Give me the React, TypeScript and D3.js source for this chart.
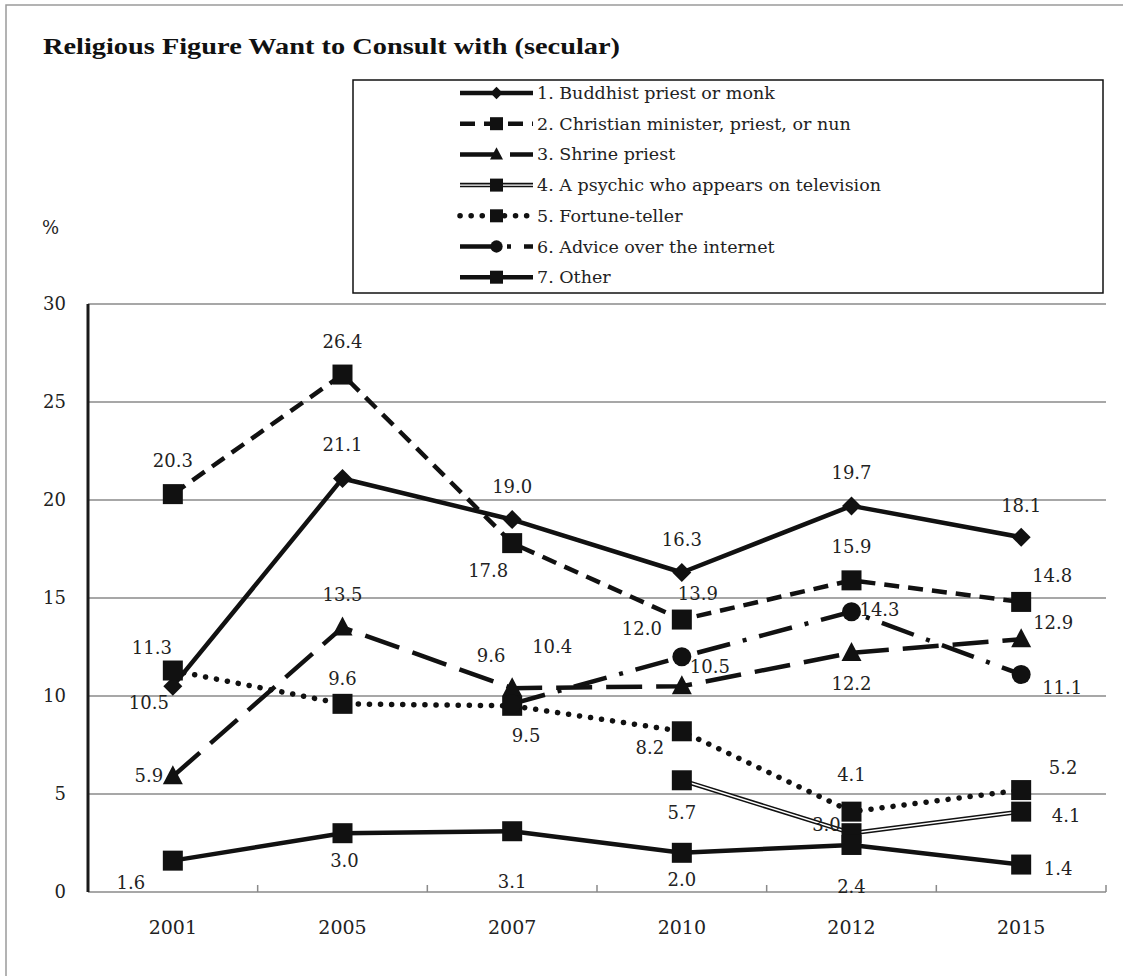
import * as d3 from "d3";

const years = ["2001", "2005", "2007", "2010", "2012", "2015"];
const seriesNames = [
  "1. Buddhist priest or monk",
  "2. Christian minister, priest, or nun",
  "3. Shrine priest",
  "4. A psychic who appears on television",
  "5. Fortune-teller",
  "6. Advice over the internet",
  "7. Other",
];
const buddhist = [10.5, 21.1, 19.0, 16.3, 19.7, 18.1];
const christian = [20.3, 26.4, 17.8, 13.9, 15.9, 14.8];
const shrine = [5.9, 13.5, 10.4, 10.5, 12.2, 12.9];
const psychic = [null, null, null, 5.7, 3.0, 4.1];
const fortune = [11.3, 9.6, 9.5, 8.2, 4.1, 5.2];
const internet = [null, null, 9.6, 12.0, 14.3, 11.1];
const other = [1.6, 3.0, 3.1, 2.0, 2.4, 1.4];
const yTicks = [0, 5, 10, 15, 20, 25, 30];

const allSeries: (number | null)[][] = [buddhist, christian, shrine, psychic, fortune, internet, other];

type Marker = "diamond" | "square" | "triangle" | "circle";
const styles: { marker: Marker; dash?: string; cap?: string; width: number; double?: boolean }[] = [
  { marker: "diamond", width: 4.5 },
  { marker: "square", dash: "15 9", width: 4.5 },
  { marker: "triangle", dash: "36 14", width: 4.5 },
  { marker: "square", width: 4.5, double: true },
  { marker: "square", dash: "0.1 11", cap: "round", width: 5.5 },
  { marker: "circle", dash: "34 13 4 13", width: 4.5 },
  { marker: "square", width: 4.5 },
];

// label offsets from the point (dx, baseline dy)
const labelOffsets: ([number, number] | null)[][] = [
  [[-24, 23], [0, -27], [0, -27], [0, -27], [0, -27], [0, -25]],
  [[0, -27], [0, -27], [-24, 34], [16, -20], [0, -27], [31, -20]],
  [[-24, 6], [0, -26], [40, -35], [28, -13], [0, 37], [32, -10]],
  [null, null, null, [0, 39], [-25, -2], [45, 10]],
  [[-21, -17], [0, -19], [14, 36], [-32, 23], [0, -31], [42, -16]],
  [null, null, [-21, -42], [-40, -22], [28, 4], [41, 20]],
  [[-42, 28], [2, 34], [0, 57], [0, 33], [0, 48], [37, 10]],
];

const FONT = "'DejaVu Serif', serif";

function MarkerShape({ type, cx, cy, s = 1 }: { type: Marker; cx: number; cy: number; s?: number }) {
  if (type === "square") {
    const h = 10 * s;
    return <rect x={cx - h} y={cy - h} width={2 * h} height={2 * h} fill="#111" />;
  }
  if (type === "diamond") {
    const h = 9.5 * s;
    return <path d={`M${cx},${cy - h}L${cx + h},${cy}L${cx},${cy + h}L${cx - h},${cy}Z`} fill="#111" />;
  }
  if (type === "triangle") {
    const w = 10 * s;
    return <path d={`M${cx},${cy - 11 * s}L${cx + w},${cy + 8 * s}L${cx - w},${cy + 8 * s}Z`} fill="#111" />;
  }
  return <circle cx={cx} cy={cy} r={9.5 * s} fill="#111" />;
}

export default function App() {
  const width = 1123;
  const height = 976;
  const plot = { left: 88, right: 1106, top: 304, bottom: 892 };

  const x = d3.scaleBand<string>().domain(years).range([plot.left, plot.right]);
  const cx = (yr: string) => (x(yr) ?? 0) + x.bandwidth() / 2;
  const y = d3.scaleLinear().domain([0, 30]).range([plot.bottom, plot.top]);
  const fmt = d3.format(".1f");

  const line = d3
    .line<number | null>()
    .defined((d) => d != null)
    .x((_, i) => cx(years[i]))
    .y((d) => y(d as number));

  const legend = { x: 353, y: 80, w: 750, h: 213, rowY: 93, rowGap: 30.7, lineX0: 460, lineX1: 533 };

  return (
    <svg
      width={width}
      height={height}
      style={{ position: "absolute", left: 0, top: 0, background: "#fff" }}
      fontFamily={FONT}
    >
      <rect x={0} y={0} width={width} height={height} fill="#fff" />
      <rect x={6} y={5} width={width + 20} height={height + 20} fill="none" stroke="#9a9a9a" strokeWidth={1.5} />

      <text
        x={43}
        y={54}
        fontFamily="'Liberation Serif', serif"
        fontWeight="bold"
        fontSize={23}
        textLength={577}
        lengthAdjust="spacingAndGlyphs"
        fill="#111"
      >
        Religious Figure Want to Consult with (secular)
      </text>

      {/* grid */}
      {yTicks.map((t) => (
        <g key={t}>
          {t > 0 && (
            <line x1={plot.left} x2={plot.right} y1={y(t)} y2={y(t)} stroke="#8a8a8a" strokeWidth={1.5} />
          )}
          <text x={66} y={y(t) + 6} textAnchor="end" fontSize={18} fill="#222">
            {t}
          </text>
        </g>
      ))}
      <text x={42} y={234} fontSize={18} fill="#222">
        %
      </text>

      {/* x axis */}
      <line x1={plot.left} x2={plot.right} y1={plot.bottom} y2={plot.bottom} stroke="#8a8a8a" strokeWidth={1.5} />
      {d3.range(years.length + 1).map((i) => {
        const xx = plot.left + i * x.bandwidth();
        return <line key={i} x1={xx} x2={xx} y1={plot.bottom} y2={plot.bottom - 7} stroke="#8a8a8a" strokeWidth={1.5} />;
      })}
      {years.map((yr) => (
        <text key={yr} x={cx(yr)} y={934} textAnchor="middle" fontSize={19} fill="#222">
          {yr}
        </text>
      ))}
      <line x1={plot.left} x2={plot.left} y1={plot.top} y2={plot.bottom} stroke="#1a1a1a" strokeWidth={3} />

      {/* series */}
      {allSeries.map((data, si) => {
        const st = styles[si];
        const d = line(data) ?? "";
        return (
          <g key={si}>
            <path
              d={d}
              fill="none"
              stroke="#111"
              strokeWidth={st.width}
              strokeDasharray={st.dash}
              strokeLinecap={(st.cap as any) ?? "butt"}
              strokeLinejoin="round"
            />
            {st.double && <path d={d} fill="none" stroke="#fff" strokeWidth={1.4} />}
            {data.map((v, i) =>
              v == null ? null : <MarkerShape key={i} type={st.marker} cx={cx(years[i])} cy={y(v)} />
            )}
          </g>
        );
      })}

      {/* data labels */}
      {allSeries.map((data, si) =>
        data.map((v, i) => {
          const off = labelOffsets[si][i];
          if (v == null || !off) return null;
          return (
            <text
              key={`${si}-${i}`}
              x={cx(years[i]) + off[0]}
              y={y(v) + off[1]}
              textAnchor="middle"
              fontSize={18}
              fill="#222"
            >
              {fmt(v)}
            </text>
          );
        })
      )}

      {/* legend */}
      <rect x={legend.x} y={legend.y} width={legend.w} height={legend.h} fill="#fff" stroke="#111" strokeWidth={1.5} />
      {seriesNames.map((name, si) => {
        const st = styles[si];
        const ry = legend.rowY + si * legend.rowGap;
        const mx = (legend.lineX0 + legend.lineX1) / 2;
        return (
          <g key={name}>
            <line
              x1={legend.lineX0}
              x2={legend.lineX1}
              y1={ry}
              y2={ry}
              stroke="#111"
              strokeWidth={st.width}
              strokeDasharray={st.dash}
              strokeLinecap={(st.cap as any) ?? "butt"}
            />
            {st.double && <line x1={legend.lineX0} x2={legend.lineX1} y1={ry} y2={ry} stroke="#fff" strokeWidth={1.4} />}
            <MarkerShape type={st.marker} cx={mx} cy={ry} s={0.65} />
            <text x={537} y={ry + 6} fontSize={17.5} fill="#222">
              {name}
            </text>
          </g>
        );
      })}
    </svg>
  );
}
